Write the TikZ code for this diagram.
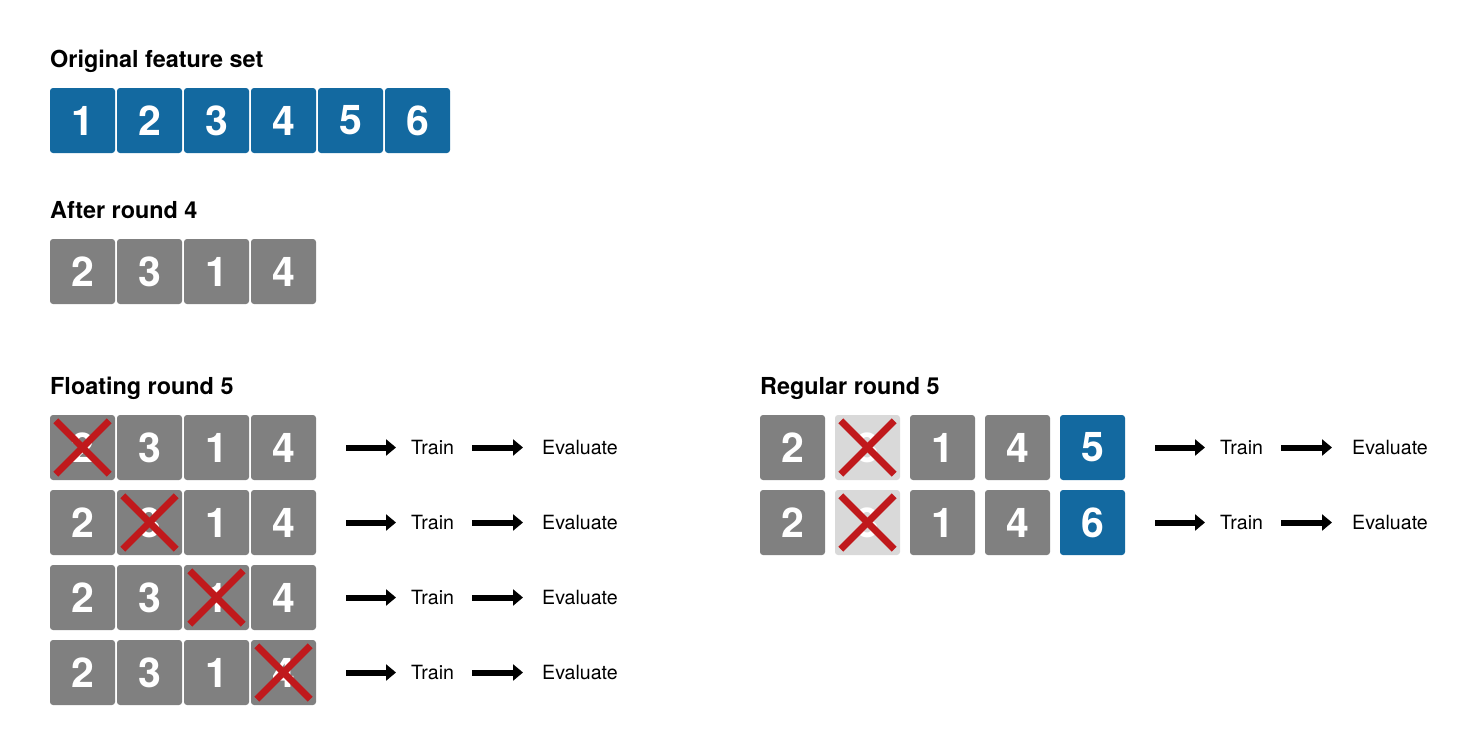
\documentclass[tikz,border=0pt]{standalone}
\usepackage{fontspec}
\setmainfont{TeX Gyre Heros}
\usetikzlibrary{arrows.meta}
\definecolor{featblue}{HTML}{1369A0}
\definecolor{featgray}{HTML}{808080}
\definecolor{dropgray}{HTML}{D9D9D9}
\definecolor{crossred}{HTML}{C0191C}
\tikzset{
  feat/.style={rectangle, rounded corners=3pt, minimum size=65pt, inner sep=0pt, text=white, font=\fontsize{41}{41}\selectfont\bfseries},
  bluefeat/.style={feat, fill=featblue},
  grayfeat/.style={feat, fill=featgray},
  dropfeat/.style={feat, fill=dropgray},
  heading/.style={anchor=base west, inner sep=0pt, font=\fontsize{23.4}{23.4}\selectfont\bfseries},
  stage/.style={anchor=west, inner sep=0pt, font=\fontsize{19.6}{19.6}\selectfont},
  bigarrow/.style={line width=6pt, -{Triangle[length=10pt,width=16pt]}},
  cross/.style={crossred, line width=7pt}
}
\begin{document}
\begin{tikzpicture}[x=1pt, y=-1pt]
	\useasboundingbox (0,0) rectangle (1476,755);
	% Original feature set
	\node[heading] (h0) at (50,67) {Original feature set};
	\foreach \v in {1,...,6}
		\node[bluefeat] (o\v) at ({15.5+67*\v},120.5) {\v};
	% After round 4
	\node[heading] (h1) at (50,218) {After round 4};
	\foreach \v [count=\i] in {2,3,1,4}
		\node[grayfeat] (a\i) at ({15.5+67*\i},271.5) {\v};
	% Floating round 5
	\node[heading] (h2) at (50,394) {Floating round 5};
	\foreach \r/\y in {1/447.5, 2/522.5, 3/597.5, 4/672.5} {
		\foreach \v [count=\i] in {2,3,1,4}
			\node[grayfeat] (f\r\i) at ({15.5+67*\i},\y) {\v};
		\draw[cross] ([shift={(6pt,-6pt)}]f\r\r.north west) -- ([shift={(-6pt,6pt)}]f\r\r.south east);
		\draw[cross] ([shift={(-6pt,-6pt)}]f\r\r.north east) -- ([shift={(6pt,6pt)}]f\r\r.south west);
		\node[stage] (ft\r) at (411,\y) {Train};
		\node[stage] (fe\r) at (542,\y) {Evaluate};
		\draw[bigarrow, shorten <=30pt, shorten >=15pt] (f\r4.east) -- (ft\r.west);
		\draw[bigarrow, shorten <=18pt, shorten >=19pt] (ft\r.east) -- (fe\r.west);
	}
	% Regular round 5
	\node[heading] (h3) at (760,394) {Regular round 5};
	\foreach \r/\y/\n in {1/447.5/5, 2/522.5/6} {
		\node[grayfeat] (g\r1) at (792.5,\y) {2};
		\node[dropfeat] (g\r2) at (867.5,\y) {3};
		\node[grayfeat] (g\r3) at (942.5,\y) {1};
		\node[grayfeat] (g\r4) at (1017.5,\y) {4};
		\node[bluefeat] (g\r5) at (1092.5,\y) {\n};
		\draw[cross] ([shift={(6pt,-6pt)}]g\r2.north west) -- ([shift={(-6pt,6pt)}]g\r2.south east);
		\draw[cross] ([shift={(-6pt,-6pt)}]g\r2.north east) -- ([shift={(6pt,6pt)}]g\r2.south west);
		\node[stage] (gt\r) at (1220,\y) {Train};
		\node[stage] (ge\r) at (1352,\y) {Evaluate};
		\draw[bigarrow, shorten <=30pt, shorten >=15pt] (g\r5.east) -- (gt\r.west);
		\draw[bigarrow, shorten <=18pt, shorten >=20pt] (gt\r.east) -- (ge\r.west);
	}
\end{tikzpicture}
\end{document}
